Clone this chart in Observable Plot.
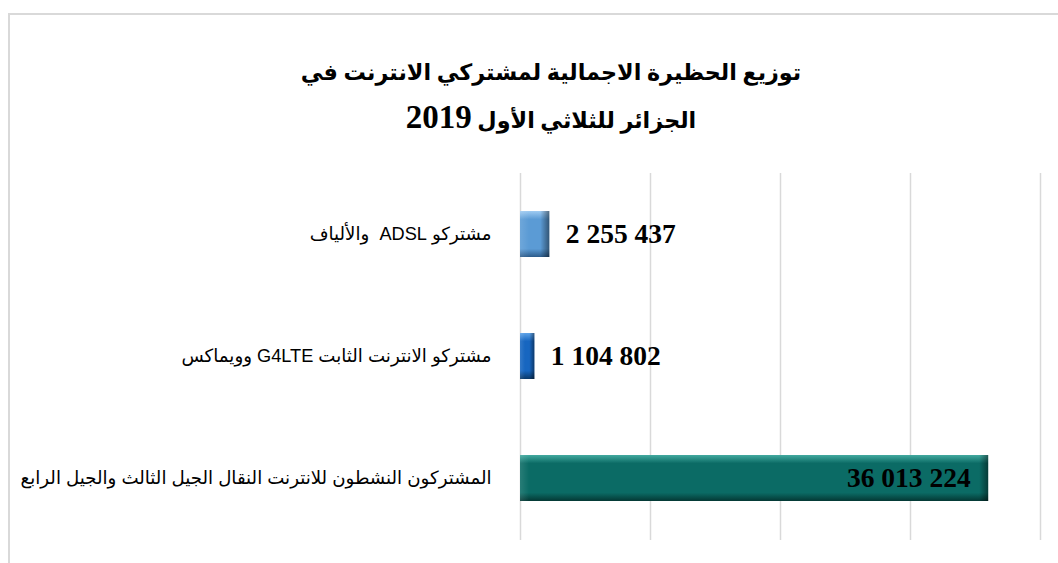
<!DOCTYPE html>
<html lang="ar">
<head>
<meta charset="utf-8">
<script src="https://cdn.jsdelivr.net/npm/d3@7"></script>
<script src="https://cdn.jsdelivr.net/npm/@observablehq/plot@0.6"></script>
<style>
  html, body { margin: 0; padding: 0; background: #fff; }
  #wrap { position: relative; width: 1058px; height: 563px; overflow: hidden; background: #fff; }
  #frame { position: absolute; left: 8px; top: 13px; width: 1100px; height: 600px; border-left: 2px solid #d9d9d9; border-top: 2px solid #d9d9d9; box-sizing: border-box; }
  #title { position: absolute; left: 44px; top: 50px; width: 1014px; text-align: center; font-family: "Liberation Serif", "DejaVu Sans", serif; font-weight: bold; font-size: 22.3px; line-height: 45px; color: #000; }
  #title .num { font-size: 33px; }
  #chart { position: absolute; left: 0; top: 0; }
</style>
</head>
<body>
<div id="wrap">
  <div id="frame"></div>
  <div id="chart"></div>
  <div id="title" dir="rtl">توزيع الحظيرة الاجمالية لمشتركي الانترنت في<br>الجزائر للثلاثي الأول <span class="num">2019</span></div>
</div>
<script>
// ---- data ----
const categories = [
  "مشتركو ADSL  والألياف",
  "مشتركو الانترنت الثابت G4LTE وويماكس",
  "المشتركون النشطون للانترنت النقال الجيل الثالث والجيل الرابع"
];
const values = [2255437, 1104802, 36013224];
const xTicks = [0, 10000000, 20000000, 30000000, 40000000];

// ---- styles (kept out of data) ----
const palette = [
  {light: "#9fcbf2", base: "#5b9bd5", dark: "#2c5b8a"},
  {light: "#5ea3e8", base: "#1766c0", dark: "#0a3868"},
  {light: "#43aaa0", base: "#0b6b65", dark: "#043834"}
];

const data = categories.map((c, i) => ({category: c, value: values[i], index: i}));
const fmt = v => d3.format(",")(v).replace(/,/g, " ");
const rtl = s => "\u202B" + s + "\u202C";

const plot = Plot.plot({
  width: 1058,
  height: 563,
  marginTop: 173,
  marginBottom: 23,
  marginLeft: 520,
  marginRight: 18,
  style: {background: "transparent", overflow: "visible"},
  x: {domain: [0, 40000000], axis: null},
  y: {domain: categories, paddingInner: 0.62, paddingOuter: 0.31, axis: null},
  color: {type: "identity"},
  marks: [
    Plot.gridX(xTicks, {stroke: "#d9d9d9", strokeOpacity: 1, strokeWidth: 1.5}),
    Plot.axisY({
      label: null,
      tickSize: 0,
      tickPadding: 29,
      tickFormat: d => rtl(d),
      fontSize: 18.2,
      fontFamily: "Liberation Sans, DejaVu Sans, sans-serif",
      fill: "#000",
      textAnchor: "end"
    }),
    Plot.barX(data, {x: "value", y: "category", fill: d => `url(#gv${d.index})`}),
    Plot.barX(data, {x: "value", y: "category", fill: d => `url(#gh${d.index})`}),
    Plot.text(data.filter(d => d.value < 20000000), {
      x: "value", y: "category", text: d => fmt(d.value),
      textAnchor: "start", dx: 16,
      fontSize: 27.5, fontWeight: "bold", fontFamily: "Liberation Serif, Times New Roman, serif", fill: "#000"
    }),
    Plot.text(data.filter(d => d.value >= 20000000), {
      x: "value", y: "category", text: d => fmt(d.value),
      textAnchor: "end", dx: -18,
      fontSize: 27.5, fontWeight: "bold", fontFamily: "Liberation Serif, Times New Roman, serif", fill: "#000"
    })
  ]
});

// gradients for a bevel-like look
const xs = plot.scale("x");
const pxPerUnit = (xs.range[1] - xs.range[0]) / (xs.domain[1] - xs.domain[0]);
const svg = d3.select(plot);
const defs = svg.insert("defs", ":first-child");
data.forEach((d, i) => {
  const p = palette[i];
  const gv = defs.append("linearGradient").attr("id", `gv${i}`).attr("x1", 0).attr("y1", 0).attr("x2", 0).attr("y2", 1);
  [[0, p.light], [0.18, p.base], [0.82, p.base], [1, p.dark]].forEach(([o, c]) =>
    gv.append("stop").attr("offset", o).attr("stop-color", c));
  const w = Math.max(1, d.value * pxPerUnit);
  const f = Math.min(0.35, 9 / w);
  const gh = defs.append("linearGradient").attr("id", `gh${i}`).attr("x1", 0).attr("y1", 0).attr("x2", 1).attr("y2", 0);
  [[0, "#ffffff", 0.12], [f, "#ffffff", 0], [1 - f, "#000000", 0], [1, "#000000", 0.45]].forEach(([o, c, a]) =>
    gh.append("stop").attr("offset", o).attr("stop-color", c).attr("stop-opacity", a));
});

document.getElementById("chart").appendChild(plot);
</script>
</body>
</html>
